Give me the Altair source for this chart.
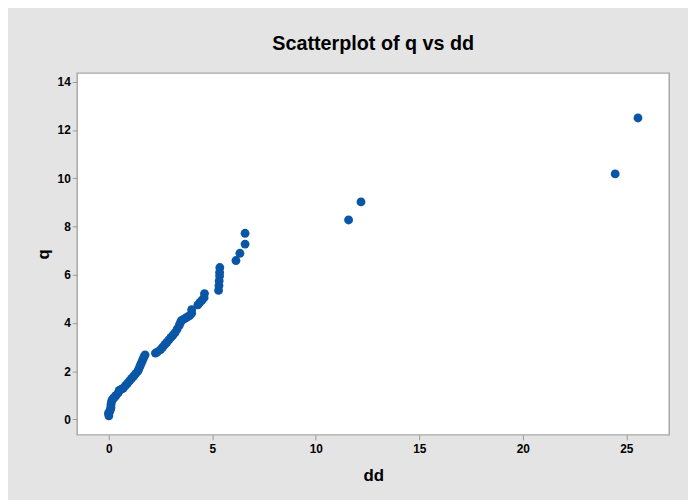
import altair as alt
import pandas as pd

# Main cluster (lower segment), upper segment, vertical group, outliers
dd = [
    0.00, -0.02, 0.02, 0.05, 0.08, 0.10, 0.10, 0.12, 0.15, 0.20, 0.25, 0.30, 0.35, 0.45,
    0.50, 0.60, 0.70, 0.80, 0.90, 1.00, 1.10, 1.20, 1.30, 1.40, 1.45, 1.50, 1.55, 1.60,
    1.65, 1.70, 1.75,
    2.25, 2.35, 2.50, 2.60, 2.70, 2.80, 2.90, 3.00, 3.10, 3.20, 3.30, 3.40, 3.45, 3.50,
    3.60, 3.70, 3.80, 3.90, 4.00, 4.00, 4.30, 4.40, 4.50, 4.60, 4.62,
    5.30, 5.32, 5.33, 5.35, 5.35, 5.36,
    6.14, 6.33, 6.58, 6.58,
    11.58, 12.18, 24.46, 25.56,
]
q = [
    0.15, 0.25, 0.30, 0.35, 0.42, 0.50, 0.60, 0.70, 0.80, 0.85, 0.90, 0.95, 1.00, 1.10,
    1.20, 1.25, 1.30, 1.40, 1.50, 1.60, 1.70, 1.80, 1.90, 2.00, 2.10, 2.20, 2.30, 2.40,
    2.50, 2.60, 2.68,
    2.75, 2.80, 2.90, 3.00, 3.10, 3.20, 3.30, 3.40, 3.50, 3.60, 3.75, 3.90, 4.00, 4.10,
    4.15, 4.20, 4.25, 4.30, 4.40, 4.55, 4.75, 4.85, 4.95, 5.05, 5.22,
    5.35, 5.55, 5.75, 5.95, 6.10, 6.30,
    6.59, 6.89, 7.27, 7.72,
    8.27, 9.02, 10.18, 12.50,
]

x_ticks = [0, 5, 10, 15, 20, 25]
y_ticks = [0, 2, 4, 6, 8, 10, 12, 14]

df = pd.DataFrame({"dd": dd, "q": q})

FONT = "Liberation Sans Narrow, Arial Narrow, Liberation Sans, Arial"

chart = alt.Chart(df).mark_circle(size=80, opacity=1, color="#0A56A6").encode(
    x=alt.X(
        "dd:Q",
        scale=alt.Scale(domain=[-1.53, 27.07], nice=False, zero=False),
        axis=alt.Axis(values=x_ticks, title="dd", grid=False, domain=False,
                      tickColor="#9a9a9a", tickSize=5, labelPadding=4,
                      labelFontSize=12, labelFontWeight="bold", labelColor="#000",
                      labelFont=FONT, titleFont=FONT, titleFontSize=17,
                      titleFontWeight="bold", titleColor="#000", titlePadding=13),
    ),
    y=alt.Y(
        "q:Q",
        scale=alt.Scale(domain=[-0.64, 14.36], nice=False, zero=False),
        axis=alt.Axis(values=y_ticks, title="q", grid=False, domain=False,
                      tickColor="#9a9a9a", tickSize=5, labelPadding=2,
                      labelFontSize=12, labelFontWeight="bold", labelColor="#000",
                      labelFont=FONT, titleFont=FONT, titleFontSize=17,
                      titleFontWeight="bold", titleColor="#000", titlePadding=5),
    ),
).properties(
    width=599,
    height=366,
    title=alt.TitleParams("Scatterplot of q vs dd", font=FONT, fontSize=20,
                          fontWeight="bold", color="#000", anchor="middle",
                          offset=19),
    background="#e4e4e4",
    padding={"left": 70, "top": 63, "right": 19, "bottom": 63},
    autosize=alt.AutoSizeParams(type="none"),
).configure_view(
    fill="white", stroke="#a8a8a8", strokeWidth=1.5
)

chart.save("out.html", embed_options={"renderer": "svg", "actions": False})
